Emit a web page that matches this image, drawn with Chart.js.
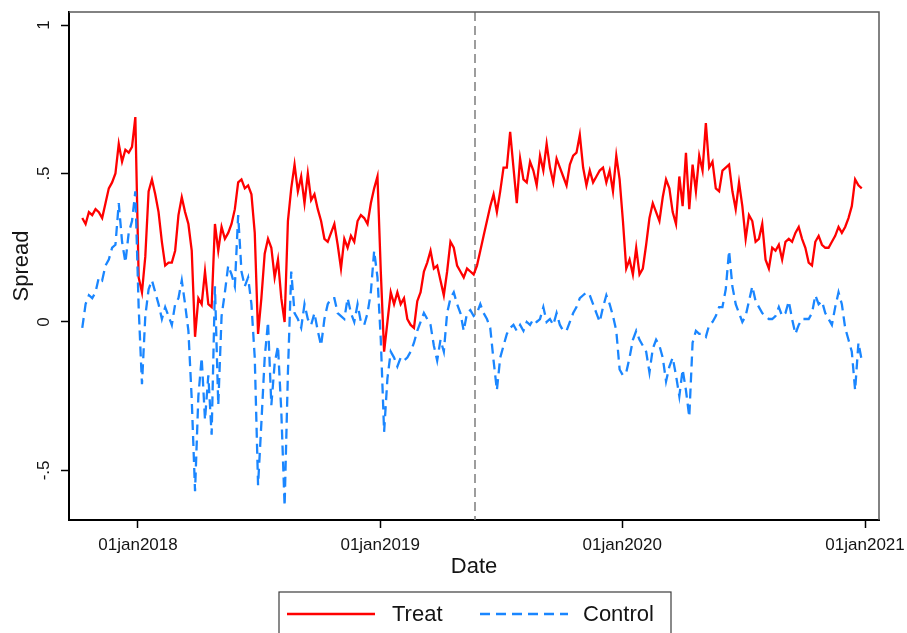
<!DOCTYPE html>
<html>
<head>
<meta charset="utf-8">
<title>Spread: Treat vs Control</title>
<script src="https://cdn.jsdelivr.net/npm/chart.js@4.4.1/dist/chart.umd.min.js"></script>
<style>
  html, body { margin: 0; padding: 0; background: #ffffff; }
  #wrap { width: 907px; height: 633px; }
</style>
</head>
<body>
<div id="wrap"><canvas id="spreadChart" width="907" height="633"></canvas></div>
<script>
// observations every 5 days starting at firstObs
const firstObs = '2017-10-09';
const obsStepDays = 5;

const treatValues = [
  0.35, 0.33, 0.37, 0.36, 0.38, 0.37, 0.35, 0.40, 0.45, 0.47,
  0.50, 0.60, 0.54, 0.58, 0.57, 0.59, 0.69, 0.15, 0.10, 0.22,
  0.44, 0.48, 0.43, 0.37, 0.27, 0.19, 0.20, 0.20, 0.24, 0.36,
  0.42, 0.37, 0.33, 0.24, -0.05, 0.08, 0.06, 0.17, 0.06, 0.05,
  0.33, 0.24, 0.32, 0.28, 0.30, 0.33, 0.38, 0.47, 0.48, 0.45,
  0.46, 0.43, 0.30, -0.04, 0.08, 0.23, 0.28, 0.25, 0.15, 0.21,
  0.08, 0.00, 0.34, 0.45, 0.53, 0.44, 0.49, 0.40, 0.50, 0.41,
  0.43, 0.38, 0.34, 0.28, 0.27, 0.30, 0.33, 0.26,
  0.18, 0.28, 0.25, 0.29, 0.27, 0.34, 0.36, 0.35, 0.33, 0.40,
  0.45, 0.49, 0.17, -0.10, 0.00, 0.10, 0.06, 0.10, 0.06, 0.08,
  0.01, -0.01, -0.02, 0.07, 0.10, 0.17, 0.20, 0.24, 0.18, 0.19,
  0.14, 0.09, 0.17, 0.27, 0.25, 0.19, 0.17, 0.15, 0.18,
  0.17, 0.16, 0.19, 0.24, 0.29, 0.34, 0.39, 0.43, 0.37, 0.44,
  0.52, 0.52, 0.64, 0.52, 0.40, 0.55, 0.48, 0.47, 0.54, 0.51,
  0.46, 0.56, 0.51, 0.60, 0.52, 0.47, 0.55, 0.52, 0.49, 0.46,
  0.53, 0.56, 0.57, 0.63, 0.52, 0.46, 0.51, 0.47, 0.49,
  0.51, 0.52, 0.47, 0.51, 0.44, 0.56, 0.48, 0.34, 0.18, 0.21,
  0.16, 0.25, 0.16, 0.18, 0.26, 0.35, 0.40, 0.37, 0.34, 0.42,
  0.48, 0.45, 0.37, 0.33, 0.49, 0.39, 0.57, 0.38, 0.53, 0.44,
  0.56, 0.51, 0.67, 0.52, 0.54, 0.45, 0.44, 0.51, 0.52,
  0.53, 0.44, 0.38, 0.47, 0.39, 0.28, 0.36, 0.34, 0.27, 0.28,
  0.33, 0.21, 0.18, 0.25, 0.24, 0.26, 0.21, 0.27, 0.28, 0.27,
  0.30, 0.32, 0.28, 0.25, 0.20, 0.19, 0.27, 0.29, 0.26, 0.25,
  0.25, 0.27, 0.29, 0.32, 0.30, 0.32, 0.35, 0.39, 0.48, 0.46, 0.45
];

const controlValues = [
  -0.02, 0.06, 0.09, 0.08, 0.10, 0.15, 0.14, 0.19, 0.21, 0.25,
  0.26, 0.40, 0.27, 0.20, 0.30, 0.34, 0.44, 0.05, -0.21, 0.02,
  0.11, 0.14, 0.10, 0.06, 0.01, 0.05, 0.02, -0.01, 0.06, 0.08,
  0.14, 0.06, -0.03, -0.26, -0.57, -0.25, -0.12, -0.33, -0.18, -0.38,
  0.12, -0.28, 0.02, 0.10, 0.19, 0.16, 0.12, 0.36, 0.17, 0.12,
  0.15, 0.06, -0.12, -0.55, -0.34, -0.12, 0.00, -0.28, -0.14, -0.08,
  -0.30, -0.62, -0.17, 0.17, 0.03, 0.01, -0.02, 0.06, 0.01, -0.01,
  0.03, -0.03, -0.08, 0.01, 0.06, 0.08, 0.08, 0.03,
  0.02, 0.01, 0.08, 0.03, 0.00, 0.06, 0.00, -0.01, 0.03, 0.10,
  0.24, 0.15, -0.06, -0.37, -0.19, -0.10, -0.12, -0.15, -0.12, -0.13,
  -0.12, -0.10, -0.07, -0.03, 0.00, 0.03, 0.01, -0.01, -0.08, -0.13,
  -0.06, -0.10, 0.03, 0.08, 0.10, 0.06, 0.03, -0.03, 0.03,
  0.04, 0.02, 0.03, 0.06, 0.03, 0.01, -0.02, -0.13, -0.23, -0.12,
  -0.08, -0.04, -0.02, -0.01, -0.03, -0.01, -0.03, 0.00, -0.01, 0.01,
  0.00, 0.01, 0.05, 0.00, 0.01, -0.01, 0.03, -0.01, -0.03, -0.03,
  0.00, 0.03, 0.05, 0.08, 0.09, 0.10, 0.09, 0.06, 0.03,
  0.00, 0.05, 0.09, 0.06, 0.02, -0.03, -0.16, -0.18, -0.17, -0.12,
  -0.06, -0.03, -0.06, -0.08, -0.10, -0.17, -0.09, -0.06, -0.08, -0.12,
  -0.20, -0.15, -0.12, -0.18, -0.25, -0.16, -0.23, -0.32, -0.07, -0.03,
  -0.04, -0.04, -0.05, -0.01, 0.00, 0.02, 0.05, 0.05, 0.11,
  0.24, 0.12, 0.06, 0.03, 0.00, 0.02, 0.07, 0.12, 0.07, 0.05,
  0.03, 0.02, 0.01, 0.01, 0.02, 0.05, 0.02, 0.03, 0.07, 0.01,
  -0.04, -0.01, 0.01, 0.01, 0.01, 0.03, 0.09, 0.06, 0.07, 0.03,
  0.01, -0.01, 0.05, 0.10, 0.06, -0.02, -0.06, -0.10, -0.23, -0.07, -0.13
];

const seriesNames = ['Treat', 'Control'];
const tickDates = ['2018-01-01', '2019-01-01', '2020-01-01', '2021-01-01'];
const tickLabels = ['01jan2018', '01jan2019', '01jan2020', '01jan2021'];
const yTickValues = [-0.5, 0, 0.5, 1];
const yTickLabels = ['-.5', '0', '.5', '1'];
const eventDate = '2019-05-24';
const xRange = ['2017-09-19', '2021-01-22'];
const yRange = [-0.667, 1.044];

const DAY_MS = 86400000;
const FONT = "'Liberation Sans', Arial, Helvetica, sans-serif";
const TEXT = '#141414';

function toMs(s) {
    return Date.parse(s + 'T00:00:00Z');
}

function toPoints(values) {
    const start = toMs(firstObs);
    return values.map((v, i) => ({ x: start + i * obsStepDays * DAY_MS, y: v }));
}

// Stata-style frame: event line, outline, rotated y labels, boxed legend
const stataFrame = {
    id: 'stataFrame',
    beforeDatasetsDraw(chart) {
        const { ctx, chartArea, scales } = chart;
        const x = scales.x.getPixelForValue(toMs(eventDate));
        ctx.save();
        ctx.strokeStyle = '#858585';
        ctx.lineWidth = 1.6;
        ctx.setLineDash([9, 5]);
        ctx.beginPath();
        ctx.moveTo(x, chartArea.top);
        ctx.lineTo(x, chartArea.bottom);
        ctx.stroke();
        ctx.restore();
    },
    afterDraw(chart) {
        const { ctx, chartArea, scales } = chart;
        ctx.save();

        // top and right outline of the plot region
        ctx.strokeStyle = '#5a5a5a';
        ctx.lineWidth = 1.5;
        ctx.beginPath();
        ctx.moveTo(chartArea.left, chartArea.top);
        ctx.lineTo(chartArea.right, chartArea.top);
        ctx.lineTo(chartArea.right, chartArea.bottom);
        ctx.stroke();

        // vertical y tick labels
        ctx.fillStyle = TEXT;
        ctx.font = '17px ' + FONT;
        ctx.textAlign = 'center';
        ctx.textBaseline = 'middle';
        yTickValues.forEach((v, i) => {
            const y = scales.y.getPixelForValue(v);
            ctx.save();
            ctx.translate(44, y);
            ctx.rotate(-Math.PI / 2);
            ctx.fillText(yTickLabels[i], 0, 0);
            ctx.restore();
        });

        // legend box under the axis title
        const box = { x: 279, y: 592, w: 392, h: 60 };
        ctx.strokeStyle = '#3c3c3c';
        ctx.lineWidth = 1.2;
        ctx.strokeRect(box.x, box.y, box.w, box.h);

        const rowY = 614;
        const items = [
            { x0: 287, tx: 392 },
            { x0: 480, tx: 583 }
        ];
        chart.data.datasets.forEach((ds, i) => {
            const it = items[i];
            ctx.save();
            ctx.strokeStyle = ds.borderColor;
            ctx.lineWidth = ds.borderWidth;
            ctx.setLineDash(ds.borderDash || []);
            ctx.beginPath();
            ctx.moveTo(it.x0, rowY);
            ctx.lineTo(it.x0 + 88, rowY);
            ctx.stroke();
            ctx.restore();
            ctx.fillStyle = TEXT;
            ctx.font = '22px ' + FONT;
            ctx.textAlign = 'left';
            ctx.textBaseline = 'middle';
            ctx.fillText(ds.label, it.tx, rowY + 1);
        });
        ctx.restore();
    }
};

const ctx = document.getElementById('spreadChart').getContext('2d');
const chart = new Chart(ctx, {
    type: 'line',
    data: {
        datasets: [
            {
                label: seriesNames[0],
                data: toPoints(treatValues),
                borderColor: '#ff0000',
                borderWidth: 2.3,
                pointRadius: 0,
                tension: 0,
                order: 1
            },
            {
                label: seriesNames[1],
                data: toPoints(controlValues),
                borderColor: '#1a86ff',
                borderWidth: 2.3,
                borderDash: [10, 6],
                pointRadius: 0,
                tension: 0,
                order: 0
            }
        ]
    },
    options: {
        responsive: false,
        animation: false,
        devicePixelRatio: 1,
        layout: { padding: { top: 12, right: 28, left: 0, bottom: 51 } },
        plugins: {
            legend: { display: false },
            tooltip: { enabled: false }
        },
        scales: {
            x: {
                type: 'linear',
                min: toMs(xRange[0]),
                max: toMs(xRange[1]),
                afterBuildTicks: (scale) => {
                    scale.ticks = tickDates.map(d => ({ value: toMs(d) }));
                },
                afterFit: (scale) => {
                    scale.height = 62;
                    scale.paddingLeft = 0;
                    scale.paddingRight = 0;
                },
                ticks: {
                    autoSkip: false,
                    maxRotation: 0,
                    padding: 7,
                    color: TEXT,
                    font: { family: FONT, size: 17 },
                    callback: (value, index) => tickLabels[index]
                },
                grid: {
                    drawOnChartArea: false,
                    drawTicks: true,
                    tickLength: 8,
                    tickWidth: 1.5,
                    color: '#000'
                },
                border: { display: true, color: '#000', width: 2 },
                title: {
                    display: true,
                    text: 'Date',
                    color: TEXT,
                    font: { family: FONT, size: 22 },
                    padding: { top: 0, bottom: 2 }
                }
            },
            y: {
                type: 'linear',
                min: yRange[0],
                max: yRange[1],
                afterBuildTicks: (scale) => {
                    scale.ticks = yTickValues.map(v => ({ value: v }));
                },
                afterFit: (scale) => {
                    scale.width = 69;
                },
                ticks: { display: false },
                grid: {
                    drawOnChartArea: false,
                    drawTicks: true,
                    tickLength: 8,
                    tickWidth: 1.5,
                    color: '#000'
                },
                border: { display: true, color: '#000', width: 2 },
                title: {
                    display: true,
                    text: 'Spread',
                    color: TEXT,
                    font: { family: FONT, size: 22 },
                    padding: { top: 9, bottom: 0 }
                }
            }
        }
    },
    plugins: [stataFrame]
});
</script>
</body>
</html>
